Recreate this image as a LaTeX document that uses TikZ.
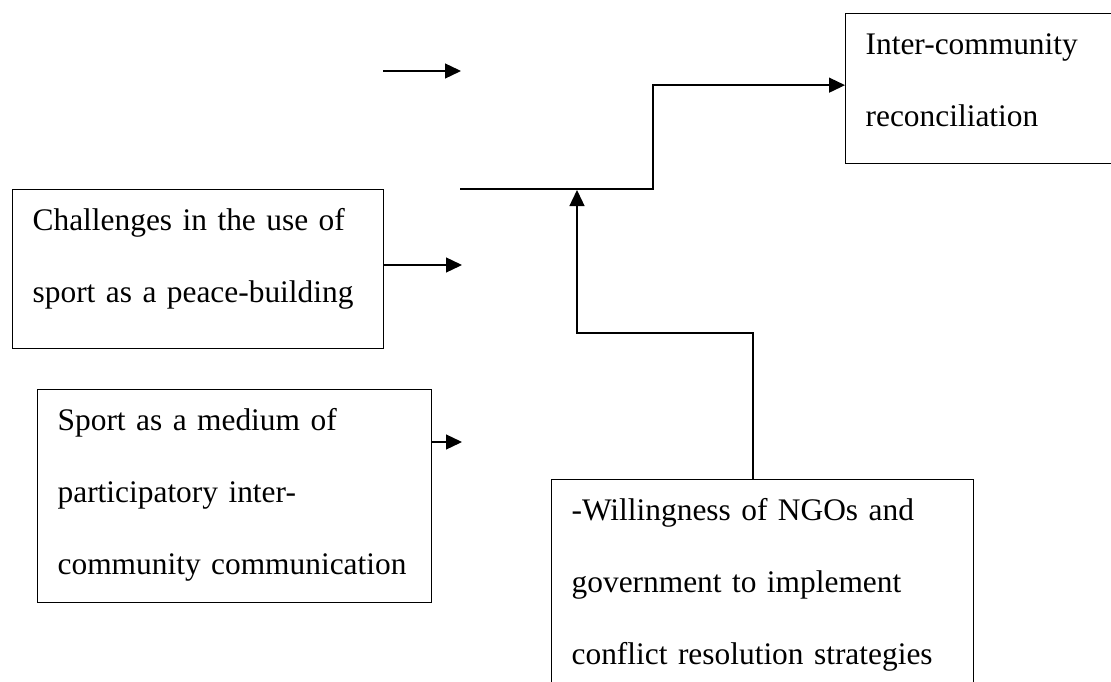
\documentclass[tikz,border=0pt]{standalone}
\usepackage{fontspec}
\setmainfont{Liberation Serif}
\usetikzlibrary{arrows.meta}

\begin{document}
\begin{tikzpicture}[x=1pt,y=-1pt,>={Triangle[length=16pt,width=15pt]},line width=1.3pt,
    box/.style={draw,anchor=north west,align=left,inner xsep=20pt,inner ysep=0pt,text height=41pt,font={\fontsize{31.4pt}{72pt}\selectfont}}]
                \clip (0,0) rectangle (1111,682);
                \node[box,text width=331pt,text depth=118pt] (chal) at (12,189) {Challenges in the use of\\sport as a peace-building};
                \node[box,text width=354pt,text depth=172pt] (sport) at (37,389) {Sport as a medium of\\participatory inter-\\\mbox{community communication}};
                \node[box,text width=265pt,text depth=109pt] (recon) at (845,13) {Inter-community\\reconciliation};
                \node[box,text width=382pt,text depth=199pt] (will) at (551,479) {-Willingness of NGOs and\\government to implement\\conflict resolution strategies};
                \coordinate (in1) at (383,71);
                \coordinate (in1end) at (461,71);
                \coordinate (in2end) at (462,265);
                \coordinate (in3end) at (462,442);
                \coordinate (merge) at (460,189);
                \coordinate (riser) at (653,189);
                \coordinate (join) at (577,190);
                \coordinate (turn) at (753,333);
                \draw[->] (in1) -- (in1end);
                \draw[->] (chal.east |- in2end) -- (in2end);
                \draw[->] (sport.east |- in3end) -- (in3end);
                \draw[->] (merge) -- (riser) |- ([yshift=3.5pt]recon.west);
                \draw[->] (will.north -| turn) -- (turn) -| (join);
            \end{tikzpicture}
\end{document}
